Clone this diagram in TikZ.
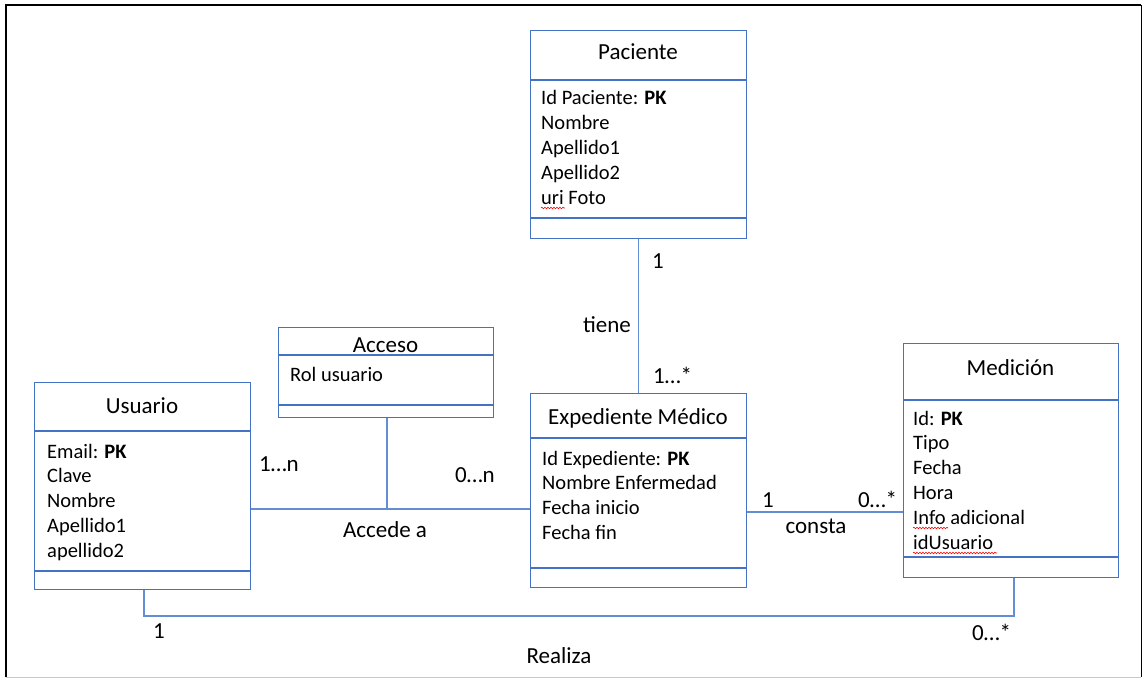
\documentclass[tikz,border=0pt]{standalone}
\usepackage{fontspec}
\setmainfont{Carlito}
\usetikzlibrary{decorations.pathmorphing}
\definecolor{boxblue}{RGB}{68,114,196}
\definecolor{linkblue}{RGB}{100,142,212}
\definecolor{frameGray}{RGB}{200,200,200}
\begin{document}
\begin{tikzpicture}[x=1pt,y=-1pt,
  umlbox/.style={draw=boxblue, line width=1.3pt, anchor=north west, inner sep=0pt},
  divider/.style={draw=boxblue, line width=1.3pt},
  link/.style={draw=linkblue, line width=1.3pt},
  attr/.style={anchor=base west, inner sep=0pt, font=\fontsize{20.5}{24.8}\selectfont},
  ttl/.style={anchor=base, inner sep=0pt, font=\fontsize{23}{27}\selectfont},
  lbl/.style={inner sep=0pt, font=\fontsize{23}{27}\selectfont},
  squig/.style={draw=red, line width=0.6pt, decorate, decoration={snake, segment length=3pt, amplitude=0.8pt}}
]
\useasboundingbox (0,0) rectangle (1143,679);
% frame
\draw[black, line width=2pt] (6,677) -- (6,5) -- (1141,5);
\draw[black, line width=1pt] (1141,5) -- (1141,677);
\draw[frameGray, line width=1pt] (6,677) -- (1141,677);

% boxes
\node[umlbox, minimum width=216pt, minimum height=208pt] (pac) at (530,30) {};
\node[umlbox, minimum width=216pt, minimum height=207pt] (usu) at (34,382) {};
\node[umlbox, minimum width=215pt, minimum height=90pt] (acc) at (278,327) {};
\node[umlbox, minimum width=216pt, minimum height=194pt] (exp) at (530,393) {};
\node[umlbox, minimum width=215pt, minimum height=234pt] (med) at (903,343) {};

% dividers
\draw[divider] (pac.west |- 0,80) -- (pac.east |- 0,80);
\draw[divider] (pac.west |- 0,218) -- (pac.east |- 0,218);
\draw[divider] (usu.west |- 0,431) -- (usu.east |- 0,431);
\draw[divider] (usu.west |- 0,571) -- (usu.east |- 0,571);
\draw[divider] (acc.west |- 0,355) -- (acc.east |- 0,355);
\draw[divider] (acc.west |- 0,405) -- (acc.east |- 0,405);
\draw[divider] (exp.west |- 0,438) -- (exp.east |- 0,438);
\draw[divider] (exp.west |- 0,568) -- (exp.east |- 0,568);
\draw[divider] (med.west |- 0,400) -- (med.east |- 0,400);
\draw[divider] (med.west |- 0,557) -- (med.east |- 0,557);

% titles
\node[ttl] (pacT) at (638,60) {Paciente};
\node[ttl] (usuT) at (142,413) {Usuario};
\node[ttl] (accT) at (385.5,352) {Acceso};
\node[ttl] (expT) at (638,424) {Expediente Médico};
\node[ttl] (medT) at (1010.5,375) {Medición};

% attributes
\foreach \t [count=\i from 0] in {Id Paciente: \textbf{PK}, Nombre, Apellido1, Apellido2, uri Foto}
  \node[attr] (pacA\i) at (541, 105+24.8*\i) {\t};
\foreach \t [count=\i from 0] in {Email: \textbf{PK}, Clave, Nombre, Apellido1, apellido2}
  \node[attr] (usuA\i) at (47, 458+24.8*\i) {\t};
\node[attr] (accA0) at (290,381) {Rol usuario};
\foreach \t [count=\i from 0] in {Id Expediente: \textbf{PK}, Nombre Enfermedad, Fecha inicio, Fecha fin}
  \node[attr] (expA\i) at (542, 465+24.8*\i) {\t};
\foreach \t [count=\i from 0] in {Id: \textbf{PK}, Tipo, Fecha, Hora, Info adicional, idUsuario}
  \node[attr] (medA\i) at (913, 425+24.8*\i) {\t};

% spell-check marks
\draw[squig] (541,208) -- (565,208);
\draw[squig] (913,528) -- (948,528);
\draw[squig] (913,553) -- (997,553);

% connectors
\coordinate (j1) at (387,509);
\coordinate (j2) at (825,512);
\coordinate (r1) at (144,616);
\coordinate (r2) at (1014,616);
\draw[link] (pac.south) -- (exp.north);
\draw[link] (usu.east |- j1) -- (exp.west |- j1);
\draw[link] (acc.south -| j1) -- (j1);
\draw[link] (exp.east |- j2) -- (med.west |- j2);
\draw[link] (usu.south -| r1) -- (r1) -- (r2) -- (med.south -| r2);

% labels
\node[lbl, anchor=base] (l1) at (658,269) {1};
\node[lbl, anchor=base] (l2) at (607,332) {tiene};
\node[lbl, anchor=base west] (l3) at (653,383) {1…*};
\node[lbl, anchor=base west] (l4) at (259,471) {1…n};
\node[lbl, anchor=base west] (l5) at (455,482) {0…n};
\node[lbl, anchor=base] (l6) at (385,537) {Accede a};
\node[lbl, anchor=base west] (l7) at (762,507) {1};
\node[lbl, anchor=base west] (l8) at (858,507) {0…*};
\node[lbl, anchor=base] (l9) at (816,533) {consta};
\node[lbl, anchor=base] (l10) at (159,638) {1};
\node[lbl, anchor=base west] (l11) at (972,640) {0…*};
\node[lbl, anchor=base] (l12) at (559,663) {Realiza};
\end{tikzpicture}
\end{document}
